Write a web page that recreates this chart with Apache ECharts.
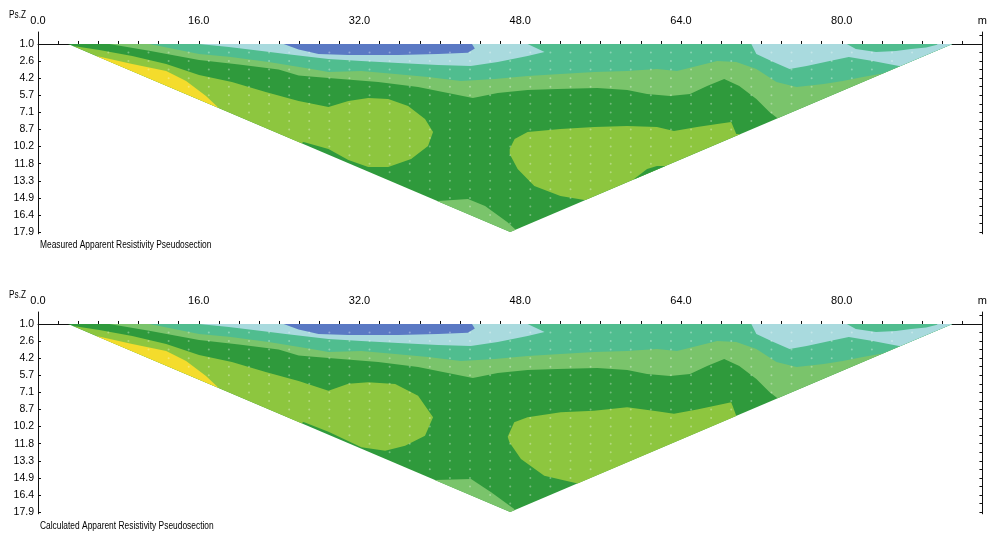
<!DOCTYPE html>
<html>
<head>
<meta charset="utf-8">
<script src="https://cdn.jsdelivr.net/npm/echarts@6/dist/echarts.min.js"></script>
<style>
  html, body { margin: 0; padding: 0; background: #fff; }
  #chart { width: 990px; height: 538px; }
</style>
</head>
<body>
<div id="chart"></div>
<script>
// --- data (x in metres, y in pseudo-depth level index) ---
const depthLabels = ['1.0', '2.6', '4.2', '5.7', '7.1', '8.7', '10.2', '11.8', '13.3', '14.9', '16.4', '17.9'];
const distanceLabels = [0, 16, 32, 48, 64, 80];
const lineEnd = 94;
const sectionOutline = [[3, 0], [91, 0], [47, 11]];
const dotLevels = [0.5, 1, 1.5, 2, 2.5, 3, 3.5, 4, 4.5, 5, 5.5, 6, 6.5, 7, 7.5, 8, 8.5, 9, 9.5, 10, 10.5];

// measured section, contour regions
const measLimeWest = [[2.75, 0.06], [6.11, 0.35], [9.38, 0.7], [12.76, 1.17], [16.03, 1.81], [19.3, 2.22], [22.66, 2.81],
  [25.94, 3.33], [28.91, 3.68], [30.89, 3.33], [32.87, 3.16], [34.86, 3.22], [36.84, 3.63], [38.52, 4.39], [39.32, 5.15],
  [38.82, 5.96], [37.14, 6.73], [34.86, 7.19], [32.87, 7.19], [30.89, 6.78], [28.91, 6.14], [26.43, 5.73], [20, 8], [0, 8], [0, 0.06]];
const measYellow = [[5.12, 0.64], [5.82, 0.7], [9.38, 1.17], [12.76, 1.58], [14.74, 2.16], [16.72, 3.04], [18.3, 3.92], [18.3, 6], [0, 6], [0, 0.5]];
const measLimeEast = [[46.95, 6.14], [47.44, 5.56], [48.73, 5.15], [52.0, 4.97], [55.37, 4.85], [58.64, 4.8], [61.61, 4.85],
  [63.3, 5.09], [65.6, 4.85], [67.6, 4.68], [69.0, 4.56], [69.5, 5.26], [71, 5.3], [60, 9.6], [54.38, 9.12], [52.0, 8.89],
  [49.4, 8.3], [47.74, 7.31], [46.95, 6.43]];
const measNotch = [[59.33, 7.89], [60.62, 7.31], [61.61, 7.13], [62.4, 7.13], [64, 7.5], [60, 8.5]];
const measApex = [[37, 9.2], [39.8, 9.18], [42.8, 9.06], [44.5, 9.47], [46.7, 10.41], [47.7, 10.94], [48, 12], [37, 12]];
const measMgBand = [[6.5, -1], [6.5, -0.1], [7.1, 0], [11.07, 0.4], [16.03, 0.94], [20.0, 1.2], [23.95, 1.5], [25.94, 1.85],
  [28.91, 1.99], [33.86, 2.22], [37.83, 2.51], [40.8, 2.87], [43.28, 3.16], [45.76, 2.87], [48.73, 2.69], [51.71, 2.63],
  [55.67, 2.57], [58.64, 2.69], [60.62, 2.92], [62.9, 3.04], [64.9, 2.92], [66.6, 2.46], [68.3, 2.05], [69.8, 2.46],
  [71.5, 3.22], [72.8, 3.98], [73.7, 4.39], [95, 4.4], [95, -1]];
const measTealBand = [[10.5, -1], [10.5, -0.1], [11.07, 0], [16.03, 0.58], [19.0, 0.75], [22.96, 1.05], [27.22, 1.46],
  [28.91, 1.64], [32.18, 1.58], [35.55, 1.75], [38.82, 1.93], [42.09, 2.16], [45.46, 2.05], [48.73, 1.87], [52.0, 1.75],
  [55.37, 1.64], [58.64, 1.58], [61.61, 1.46], [63.6, 1.58], [65.6, 1.29], [67.6, 0.99], [69.5, 1.05], [71.5, 1.46],
  [73.5, 2.22], [75.5, 2.51], [78.2, 2.34], [80.1, 2.16], [82.1, 1.93], [84.4, 1.7], [95, 1.7], [95, -1]];
const measLightBlueWest = [[15.5, -1], [15.5, -0.1], [16.03, 0], [19.0, 0.18], [22.27, 0.41], [24.65, 0.58], [28.91, 0.88],
  [32.18, 0.99], [35.85, 1.11], [39.81, 1.23], [43.08, 1.29], [45.76, 1.05], [48.73, 0.7], [50.42, 0.47], [48.73, 0], [48.2, -1]];
const measLightBlueEast = [[70.8, -1], [71.0, 0], [71.5, 0.58], [73.2, 1.05], [74.8, 1.46], [76.5, 1.29], [78.8, 0.99],
  [80.7, 0.76], [83.1, 0.99], [85.7, 1.29], [87, 1.3], [95, -1]];
const measTealPatch = [[80.3, -1], [80.5, 0], [81.4, 0.29], [83.4, 0.47], [85.4, 0.41], [86.9, 0.29], [88.4, 0.2], [89.5, 0.05], [89.8, -1]];
const measBlue = [[24.3, -1], [24.45, 0], [25.94, 0.32], [27.92, 0.58], [30.89, 0.64], [35.85, 0.64], [39.81, 0.58],
  [42.78, 0.52], [43.48, 0.26], [43.2, 0], [43.3, -1]];

// calculated section, regions that differ from the measured one
const calcLimeWest = [[2.75, 0.06], [6.11, 0.35], [9.38, 0.7], [12.76, 1.17], [16.03, 1.81], [19.3, 2.22], [22.66, 2.81],
  [25.94, 3.33], [28.91, 3.9], [30.89, 3.5], [32.87, 3.41], [35.55, 3.51], [37.83, 4.19], [39.32, 5.46], [38.52, 6.53],
  [36.54, 7.12], [34.56, 7.41], [32.18, 7.21], [28.91, 6.3], [26.43, 5.73], [20, 8], [0, 8], [0, 0.06]];
const calcLimeEast = [[46.75, 6.6], [47.4, 5.75], [48.73, 5.46], [52.03, 5.16], [55.34, 5.07], [58.64, 4.87], [61.61, 5.1],
  [63.3, 5.25], [65.6, 5.0], [67.6, 4.75], [69.0, 4.58], [69.5, 5.36], [71, 5.4], [60, 9.8], [54.0, 9.36], [50.39, 8.87],
  [48.07, 7.89], [46.92, 6.92]];
const calcApex = [[37, 9.2], [39.5, 9.12], [43.1, 9.06], [45.1, 9.84], [47.4, 10.82], [48, 12], [37, 12]];

const colors = {
  dg: '#2f9a3c', lime: '#8dc63f', yellow: '#f4dc2c', mg: '#7ac46b',
  teal: '#50bd8f', lb: '#a9dade', blue: '#5a79c4'
};

const measLayers = [
  ['dg', sectionOutline], ['lime', measLimeWest], ['yellow', measYellow], ['lime', measLimeEast], ['dg', measNotch],
  ['mg', measApex], ['mg', measMgBand], ['teal', measTealBand], ['lb', measLightBlueWest], ['lb', measLightBlueEast],
  ['teal', measTealPatch], ['blue', measBlue]
];
const calcLayers = [
  ['dg', sectionOutline], ['lime', calcLimeWest], ['yellow', measYellow], ['lime', calcLimeEast],
  ['mg', calcApex], ['mg', measMgBand], ['teal', measTealBand], ['lb', measLightBlueWest], ['lb', measLightBlueEast],
  ['teal', measTealPatch], ['blue', measBlue]
];

// clip a polygon to the (convex) section outline
function clipToSection(poly) {
  const clip = sectionOutline;
  const cx = (clip[0][0] + clip[1][0] + clip[2][0]) / 3;
  const cy = (clip[0][1] + clip[1][1] + clip[2][1]) / 3;
  let out = poly;
  for (let i = 0; i < clip.length; i++) {
    const a = clip[i], b = clip[(i + 1) % clip.length];
    const side = p => (b[0] - a[0]) * (p[1] - a[1]) - (b[1] - a[1]) * (p[0] - a[0]);
    const sign = side([cx, cy]) > 0 ? 1 : -1;
    const input = out;
    out = [];
    for (let j = 0; j < input.length; j++) {
      const p = input[j], q = input[(j + 1) % input.length];
      const sp = side(p) * sign, sq = side(q) * sign;
      if (sp >= 0) out.push(p);
      if ((sp >= 0) !== (sq >= 0)) {
        const t = sp / (sp - sq);
        out.push([p[0] + t * (q[0] - p[0]), p[1] + t * (q[1] - p[1])]);
      }
    }
    if (!out.length) break;
  }
  return out;
}

// measurement points shown as faint dots
const dots = [];
dotLevels.forEach(lv => {
  for (let x = 1; x < lineEnd; x += 2) {
    if (x > 3 + 4 * lv + 0.3 && x < 91 - 4 * lv - 0.3) dots.push([x, lv]);
  }
});

const tickMarks = [];
for (let x = 0; x <= lineEnd; x += 2) tickMarks.push(x);
const levelIdx = depthLabels.map((d, i) => i);
const halfLevels = [];
for (let v = -0.5; v <= 11; v += 0.5) halfLevels.push(v);

const font = '"Liberation Sans Narrow", "Liberation Sans", Arial, sans-serif';
const gridTops = [32, 312];

function makeSeries(layers, idx) {
  return [{
    type: 'custom',
    xAxisIndex: idx,
    yAxisIndex: idx * 2,
    silent: true,
    data: layers.map((l, k) => [l[1][0][0], l[1][0][1], k]),
    renderItem: (params, api) => {
      const layer = layers[params.dataIndex];
      const pts = clipToSection(layer[1]);
      if (pts.length < 3) return;
      return {
        type: 'polygon',
        shape: { points: pts.map(p => api.coord(p)) },
        style: { fill: colors[layer[0]] }
      };
    }
  }, {
    type: 'scatter',
    xAxisIndex: idx,
    yAxisIndex: idx * 2,
    silent: true,
    symbolSize: 2,
    itemStyle: { color: 'rgba(255,255,255,0.4)' },
    data: dots,
    z: 3
  }];
}

function caption(text, x, y, sx, size) {
  return {
    type: 'text', x: x, y: y, scaleX: sx,
    style: { text: text, font: size + 'px ' + font, fill: '#000', verticalAlign: 'top' }
  };
}

const chart = echarts.init(document.getElementById('chart'));
const option = {
  animation: false,
  backgroundColor: '#fff',
  grid: gridTops.map(t => ({ left: 38, right: 4, top: t, height: 201.8 })),
  xAxis: gridTops.map((t, i) => ({
    gridIndex: i, type: 'value', position: 'top', min: 0, max: lineEnd,
    axisLine: { show: true, lineStyle: { color: '#111', width: 1 } },
    axisTick: { show: true, customValues: tickMarks, length: 3, lineStyle: { color: '#111' } },
    axisLabel: {
      customValues: distanceLabels.concat([lineEnd]),
      formatter: v => (v === lineEnd ? 'm' : v.toFixed(1)),
      fontFamily: font, fontSize: 11, color: '#000', margin: 6
    },
    splitLine: { show: false }
  })),
  yAxis: gridTops.flatMap((t, i) => [{
    gridIndex: i, type: 'value', inverse: true, min: -0.7, max: 11.1,
    axisLine: { show: true, lineStyle: { color: '#111', width: 1 } },
    axisTick: { show: true, inside: true, customValues: levelIdx, length: 3, lineStyle: { color: '#111' } },
    axisLabel: {
      customValues: levelIdx,
      formatter: v => depthLabels[Math.round(v)],
      fontFamily: font, fontSize: 10.5, color: '#000', margin: 4
    },
    splitLine: { show: false }
  }, {
    gridIndex: i, type: 'value', inverse: true, min: -0.7, max: 11.1, position: 'right',
    axisLine: { show: true, lineStyle: { color: '#111', width: 1 } },
    axisTick: { show: true, inside: true, customValues: halfLevels, length: 3, lineStyle: { color: '#111' } },
    axisLabel: { show: false },
    splitLine: { show: false }
  }]),
  graphic: [
    caption('Ps.Z', 9, 9, 0.75, 11),
    caption('Measured Apparent Resistivity Pseudosection', 40, 240, 0.84, 10),
    caption('Ps.Z', 9, 289, 0.75, 11),
    caption('Calculated Apparent Resistivity Pseudosection', 40, 521, 0.84, 10)
  ],
  series: makeSeries(measLayers, 0).concat(makeSeries(calcLayers, 1))
};
chart.setOption(option);
</script>
</body>
</html>
